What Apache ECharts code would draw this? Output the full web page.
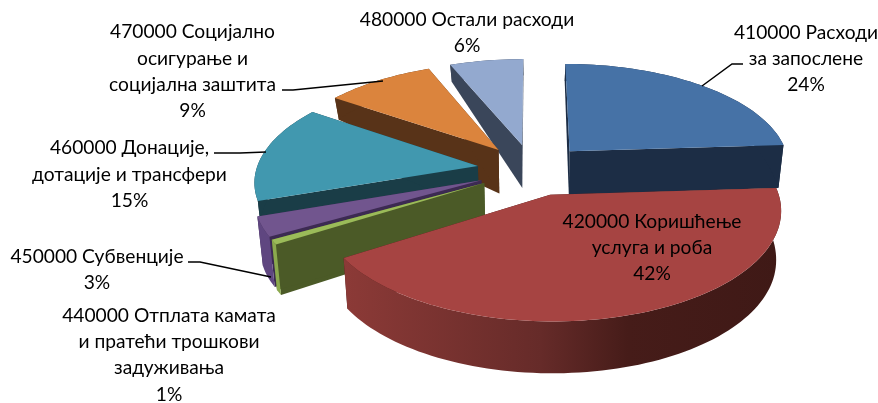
<!DOCTYPE html>
<html>
<head>
<meta charset="utf-8">
<style>
html,body{margin:0;padding:0;background:#fff}
#chart{width:878px;height:403px}
</style>
<script src="https://cdn.jsdelivr.net/npm/echarts@6/dist/echarts.min.js"></script>
</head>
<body>
<div id="chart"></div>
<script>
// data
const categories = [
  '410000 Расходи\nза запослене',
  '420000 Коришћење\nуслуга и роба',
  '440000 Отплата камата\nи пратећи трошкови\nзадуживања',
  '450000 Субвенције',
  '460000 Донације,\nдотације и трансфери',
  '470000 Социјално\nосигурање и\nсоцијална заштита',
  '480000 Остали расходи'
]
// labels round them
const shares = [24, 42, 0.7, 3, 14.9, 9.2, 6.2]

// colours per slice
const topColors = ['#4672a6', '#a64442', '#9bbb59', '#71558e', '#4198af', '#db843d', '#93a9cf']
const cutColors = ['#1c2d45', '#421a17', '#4b5a27', '#3c2a52', '#1a3d47', '#583318', '#3a465a']
const arcColors = ['#1c2d45', null, '#8ba94e', '#5f4680', '#1a3d47', '#583318', '#3a465a']

// label places (centre of the text block) and leader lines
const labelPlaces = [[806, 59], [652, 248], [169, 355], [97, 270], [129.5, 174.5], [192.5, 71.5], [467, 33]]
const leaders = [
  [[702, 86], [732, 64], [743, 64]],
  [[214, 153], [240, 153], [266, 152]],
  [[282, 90], [293, 90], [383, 81]],
  [[188, 262], [200, 262], [271, 277]]
]

// fake 3d projection of the pie
const CX = 532.5, CY = 169.5, RX = 221.5, RY = 103, PERSP = 0.13, EXPLODE = 0.25
const wallTable = [[-1.3, 16], [-0.8, 20], [-0.25, 43], [0.5, 50], [1.3, 52]]

function project(U, V) {
  const d = 1 - PERSP * V
  return [CX + RX * U / d, CY + RY * V / d]
}
function wallHeight(V) {
  if (V <= wallTable[0][0]) return wallTable[0][1]
  for (let i = 1; i < wallTable.length; i++) {
    if (V <= wallTable[i][0]) {
      const a = wallTable[i - 1], b = wallTable[i]
      return a[1] + (b[1] - a[1]) * (V - a[0]) / (b[0] - a[0])
    }
  }
  return wallTable[wallTable.length - 1][1]
}

const total = shares.reduce((a, b) => a + b, 0)
let running = 0
const slices = shares.map((v, i) => {
  const start = running / total * Math.PI * 2
  running += v
  const end = running / total * Math.PI * 2
  const mid = (start + end) / 2
  return { i, start, end, ou: EXPLODE * Math.sin(mid), ov: -EXPLODE * Math.cos(mid) }
})
// back slices are painted first
const paintOrder = slices.slice().sort((a, b) => a.ov - b.ov).map(s => s.i)

function topPoint(s, angle, r) {
  return project(s.ou + r * Math.sin(angle), s.ov - r * Math.cos(angle))
}
function bottomPoint(s, angle, r) {
  const V = s.ov - r * Math.cos(angle)
  const p = topPoint(s, angle, r)
  return [p[0] + (CX - p[0]) * 0.02, p[1] + wallHeight(V)]
}
function sliceArc(s, fn) {
  const steps = Math.max(4, Math.ceil((s.end - s.start) / 0.03))
  const pts = []
  for (let k = 0; k <= steps; k++) pts.push(fn(s, s.start + (s.end - s.start) * k / steps, 1))
  return pts
}

function renderSlice(params, api) {
  const idx = api.value(0)
  const s = slices[idx]
  const poly = (points, fill) => ({
    type: 'polygon',
    shape: { points },
    style: { fill, stroke: null }
  })
  const topArc = sliceArc(s, topPoint)
  const botArc = sliceArc(s, bottomPoint)
  const cut = angle => [
    topPoint(s, angle, 0), topPoint(s, angle, 1),
    bottomPoint(s, angle, 1), bottomPoint(s, angle, 0)
  ]
  let arcFill = arcColors[idx]
  if (!arcFill) {
    arcFill = new echarts.graphic.LinearGradient(0, 0, 1, 0, [
      { offset: 0, color: '#8c3a37' },
      { offset: 0.45, color: '#662b29' },
      { offset: 0.65, color: '#461c19' },
      { offset: 1, color: '#3f1916' }
    ])
  }
  return {
    type: 'group',
    children: [
      poly(cut(s.start), cutColors[idx]),
      poly(cut(s.end), cutColors[idx]),
      poly(topArc.concat(botArc.slice().reverse()), arcFill),
      poly([topPoint(s, 0, 0)].concat(topArc), topColors[idx])
    ]
  }
}

const labelFont = '19.2px Lato, "Noto Sans", sans-serif'
const graphics = []
leaders.forEach(points => {
  graphics.push({
    type: 'polyline',
    shape: { points },
    style: { stroke: '#000', lineWidth: 1.5, fill: null },
    z: 10
  })
})
categories.forEach((name, i) => {
  graphics.push({
    type: 'text',
    x: labelPlaces[i][0],
    y: labelPlaces[i][1],
    style: {
      text: name + '\n' + Math.round(shares[i]) + '%',
      font: labelFont,
      fill: '#000',
      align: 'center',
      verticalAlign: 'middle',
      lineHeight: 26.3
    },
    z: 11
  })
})

const chart = echarts.init(document.getElementById('chart'))
chart.setOption({
  animation: false,
  graphic: { elements: graphics },
  series: [{
    type: 'custom',
    coordinateSystem: 'none',
    silent: true,
    renderItem: renderSlice,
    data: paintOrder.map(i => [i])
  }]
})
</script>
</body>
</html>
